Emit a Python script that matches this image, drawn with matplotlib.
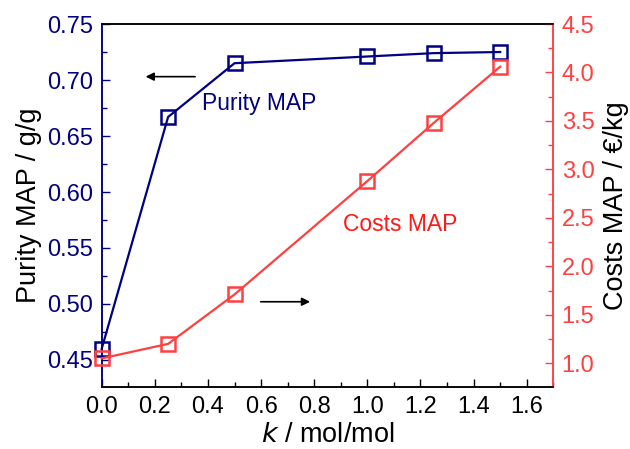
import matplotlib
matplotlib.use("Agg")
import matplotlib.pyplot as plt
from matplotlib.ticker import MultipleLocator

plt.rcParams["font.family"] = ["Liberation Sans", "DejaVu Sans"]

# -----------------------------
# Data
# -----------------------------
k_values = [0.0, 0.25, 0.5, 1.0, 1.25, 1.5]
purity_map = [0.460, 0.667, 0.715, 0.721, 0.724, 0.725]
costs_map = [1.05, 1.20, 1.71, 2.88, 3.48, 4.06]

x_ticks = [0.0, 0.2, 0.4, 0.6, 0.8, 1.0, 1.2, 1.4, 1.6]
purity_ticks = [0.45, 0.50, 0.55, 0.60, 0.65, 0.70, 0.75]
costs_ticks = [1.0, 1.5, 2.0, 2.5, 3.0, 3.5, 4.0, 4.5]

BLUE = "#000080"
RED = "#FF4040"

fig = plt.figure(figsize=(6.3, 4.49), dpi=100)
ax = fig.add_axes([0.1614, 0.1374, 0.7169, 0.8091])
ax2 = ax.twinx()

# -----------------------------
# Purity (left axis)
# -----------------------------
ax.plot(k_values, purity_map, color=BLUE, lw=1.6, marker="s", ms=10.5,
        mfc="none", mec=BLUE, mew=1.8, clip_on=False, zorder=3)
ax.set_xlim(0, 1.7)
ax.set_ylim(0.4256, 0.75)
ax.set_xticks(x_ticks)
ax.set_xticklabels([f"{v:.1f}" for v in x_ticks])
ax.set_yticks(purity_ticks)
ax.set_yticklabels([f"{v:.2f}" for v in purity_ticks])
ax.xaxis.set_minor_locator(MultipleLocator(0.1))
ax.yaxis.set_minor_locator(MultipleLocator(0.025))
ax.tick_params(axis="both", which="major", direction="in", length=6, width=1,
               labelsize=17, pad=6)
ax.tick_params(axis="both", which="minor", direction="in", length=3.5, width=1)
ax.tick_params(axis="y", which="both", colors=BLUE, labelcolor=BLUE)
ax.tick_params(axis="x", which="both", colors="black")
ax.set_xlabel(r"$\it{k}$ / mol/mol", fontsize=19.5, labelpad=3)
ax.set_ylabel("Purity MAP / g/g", fontsize=19.5, labelpad=4)

# -----------------------------
# Costs (right axis)
# -----------------------------
ax2.plot(k_values, costs_map, color=RED, lw=1.6, marker="s", ms=10.5,
         mfc="none", mec=RED, mew=1.8, clip_on=False, zorder=3)
ax2.set_ylim(0.752, 4.5)
ax2.set_yticks(costs_ticks)
ax2.set_yticklabels([f"{v:.1f}" for v in costs_ticks])
ax2.yaxis.set_minor_locator(MultipleLocator(0.25))
ax2.tick_params(axis="y", which="major", direction="in", length=6, width=1,
                labelsize=17, pad=6, colors=RED, labelcolor=RED)
ax2.tick_params(axis="y", which="minor", direction="in", length=3.5, width=1,
                colors=RED)
ax2.set_ylabel("Costs MAP / \u20ac/kg", fontsize=19.5, labelpad=6)

# spines
for a in (ax, ax2):
    a.spines["left"].set_color(BLUE)
    a.spines["right"].set_color(RED)
    a.spines["top"].set_color("black")
    a.spines["bottom"].set_color("black")
    for s in a.spines.values():
        s.set_linewidth(1.1)

# -----------------------------
# Labels and arrows
# -----------------------------
ax.text(0.377, 0.679, "Purity MAP", color=BLUE, fontsize=16.5,
        ha="left", va="center")
ax.text(0.907, 0.5714, "Costs MAP", color="#FF1A1A", fontsize=16.5,
        ha="left", va="center")
ax.annotate("", xy=(0.155, 0.703), xytext=(0.362, 0.703),
            arrowprops=dict(arrowstyle="-|>", color="black", lw=1.2,
                            mutation_scale=12))
ax.annotate("", xy=(0.795, 0.502), xytext=(0.588, 0.502),
            arrowprops=dict(arrowstyle="-|>", color="black", lw=1.2,
                            mutation_scale=12))

fig.savefig("out.png", dpi=100)
